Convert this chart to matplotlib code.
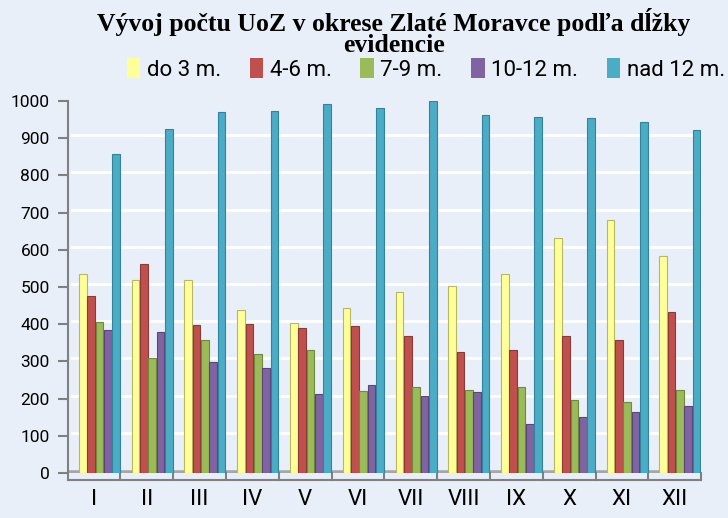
import numpy as np
import matplotlib.pyplot as plt
from matplotlib.patches import Patch

months = ['I', 'II', 'III', 'IV', 'V', 'VI', 'VII', 'VIII', 'IX', 'X', 'XI', 'XII']
series_names = ['do 3 m.', '4-6 m.', '7-9 m.', '10-12 m.', 'nad 12 m.']
do3 = [535, 518, 518, 437, 404, 443, 487, 502, 535, 632, 680, 583]
m4_6 = [477, 563, 397, 401, 390, 395, 368, 326, 330, 368, 358, 433]
m7_9 = [405, 308, 357, 320, 330, 220, 232, 222, 232, 195, 190, 222]
m10_12 = [383, 378, 298, 283, 212, 237, 207, 218, 132, 150, 163, 180]
nad12 = [857, 925, 970, 972, 993, 981, 1000, 962, 958, 953, 944, 922]

colors = ['#FFFF99', '#C0504D', '#9BBB59', '#8064A2', '#4BACC6']
edges = ['#B8B860', '#8C3A38', '#6F8A3C', '#5B4578', '#31849B']
bg = '#E9EFF9'

fig = plt.figure(figsize=(7.28, 5.18), dpi=100, facecolor=bg)
ax = fig.add_axes([0.093, 0.087, 0.87, 0.718], facecolor=bg)

# spine position first, it resets the ticks
for s in ['top', 'right']:
    ax.spines[s].set_visible(False)
ax.spines['bottom'].set_position(('data', -20))
ax.spines['left'].set_color('#808080')
ax.spines['left'].set_linewidth(1.5)
ax.spines['bottom'].set_color('#808080')
ax.spines['bottom'].set_linewidth(1.5)

x = np.arange(len(months))
w = 0.145
step = 0.158
data = [do3, m4_6, m7_9, m10_12, nad12]
for i, vals in enumerate(data):
    ax.bar(x + 0.1 + (i - 2) * step, vals, width=w, color=colors[i],
           edgecolor=edges[i], linewidth=0.8, zorder=3)

ax.set_xlim(-0.5, len(months) - 0.5)
ax.set_ylim(0, 1000)
ax.set_yticks(range(0, 1001, 100))
ax.set_yticklabels([str(v) for v in range(0, 1001, 100)], fontsize=12.5, family='Roboto')
ax.tick_params(axis='y', length=7, color='#808080', width=1.5, pad=6)
for y in range(100, 1001, 100):
    ax.plot([-0.42, 11.6], [y + 8, y + 8], color='white', lw=2, zorder=1)
ax.axhline(0, color='#A6A6A6', lw=4, zorder=2)

ax.set_xticks(x)
ax.set_xticklabels(months, fontsize=16, family='Roboto')
ax.tick_params(axis='x', length=0, pad=6)
for b in np.arange(-0.5, len(months), 1.0):
    ax.plot([b, b], [0, -20], color='#808080', lw=1.5, clip_on=False)

fig.text(0.541, 0.937, 'Vývoj počtu UoZ v okrese Zlaté Moravce podľa dĺžky\nevidencie',
         ha='center', va='center', fontsize=18.5, fontweight='bold',
         family='Liberation Serif', linespacing=0.85)

handles = [Patch(facecolor=c, edgecolor='none') for c in colors]
fig.legend(handles, series_names, loc='center', bbox_to_anchor=(0.585, 0.866),
           ncol=5, frameon=False, prop={'family': 'Roboto', 'size': 16},
           handlelength=0.6, handleheight=1.0, handletextpad=0.3, columnspacing=1.3)

fig.savefig('out.png', dpi=100, facecolor=bg)
